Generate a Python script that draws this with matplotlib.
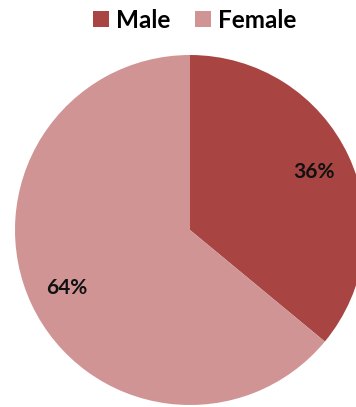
import matplotlib
matplotlib.use("Agg")
import matplotlib.pyplot as plt
from matplotlib.patches import Patch

labels = ["Male", "Female"]
shares = [36, 64]
colors = ["#A84543", "#D09494"]

plt.rcParams["font.family"] = ["Lato", "DejaVu Sans"]

fig = plt.figure(figsize=(3.56, 4.07), dpi=100)
W, H = 356, 407
ax = fig.add_axes([15 / W, 2 / H, 350 / W, 350 / H])
ax.pie(shares, colors=colors, startangle=90, counterclock=False,
       autopct="%d%%", pctdistance=0.78, radius=1.0,
       wedgeprops=dict(linewidth=0),
       textprops=dict(fontsize=15, fontweight="bold", color="#111111"))
ax.set_xlim(-1, 1)
ax.set_ylim(-1, 1)
ax.set_aspect("equal")
ax.axis("off")

handles = [Patch(facecolor=c, edgecolor="none") for c in colors]
fig.legend(handles, labels, loc="center", bbox_to_anchor=(195 / W, 1 - 20 / H),
           ncol=2, frameon=False, handlelength=0.65, handleheight=0.65,
           handletextpad=0.3, columnspacing=1.0,
           prop=dict(size=17.5, weight="bold"))

fig.savefig("out.png", dpi=100)
